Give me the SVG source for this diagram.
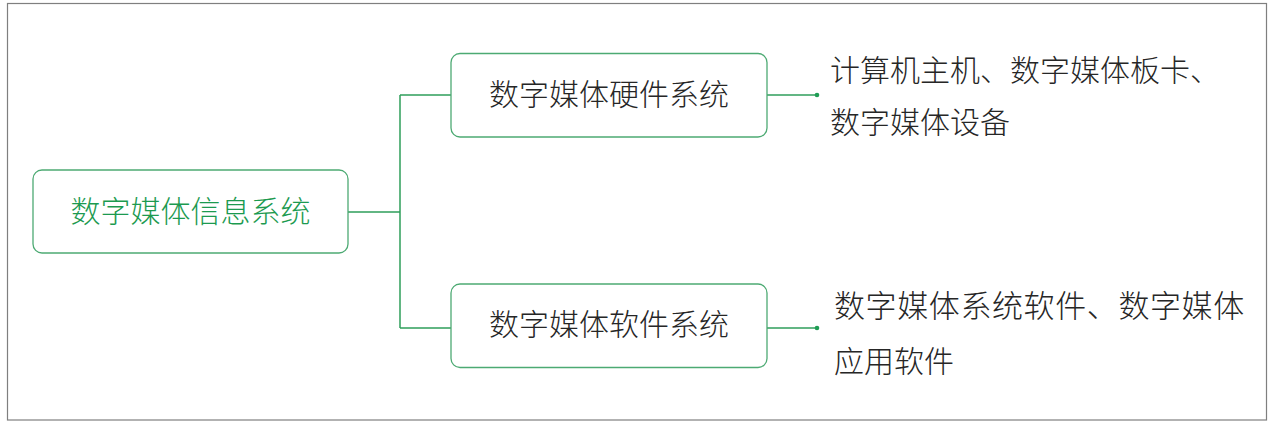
<svg xmlns="http://www.w3.org/2000/svg" width="1276" height="423" viewBox="0 0 1276 423">
<style>
.frame{fill:#fff;stroke:#7f7f7f;stroke-width:1.2}
.box{fill:#fff;stroke:#4daa73;stroke-width:1.3}
.t{font-family:"Noto Sans CJK SC","Noto Sans",sans-serif;font-size:30px;font-weight:300;fill:#262626}
.g{fill:#1c9a50}
.ln{fill:none;stroke:#2f9e5b;stroke-width:1.5}
.dot{fill:#1f9d55}
</style>
<rect class="frame" x="7.5" y="3.5" width="1259" height="416.5"/>
<g id="connectors">
<path class="ln" d="M348 212 H400 M400 95 V328 M400 95 H451 M400 328 H451"/>
<path class="ln" d="M767 95 H817"/>
<circle class="dot" cx="817" cy="95" r="2.3"/>
<path class="ln" d="M767 328 H817"/>
<circle class="dot" cx="817" cy="328" r="2.3"/>
</g>
<g id="root">
<rect class="box" x="33" y="170" width="315" height="83" rx="9"/>
<text class="t g" x="190.5" y="222" text-anchor="middle">数字媒体信息系统</text>
</g>
<g id="hardware">
<rect class="box" x="451" y="53.5" width="316" height="83.5" rx="9"/>
<text class="t" x="609" y="105" text-anchor="middle">数字媒体硬件系统</text>
</g>
<g id="software">
<rect class="box" x="451" y="284" width="316" height="83.5" rx="9"/>
<text class="t" x="609" y="335" text-anchor="middle">数字媒体软件系统</text>
</g>
<g id="hardware-detail">
<text class="t" x="830" y="81">计算机主机、数字媒体板卡、</text>
<text class="t" x="830" y="133">数字媒体设备</text>
</g>
<g id="software-detail">
<text class="t" x="834" y="317" style="font-size:31px;letter-spacing:0.6px">数字媒体系统软件、数字媒体</text>
<text class="t" x="834" y="372">应用软件</text>
</g>
</svg>
